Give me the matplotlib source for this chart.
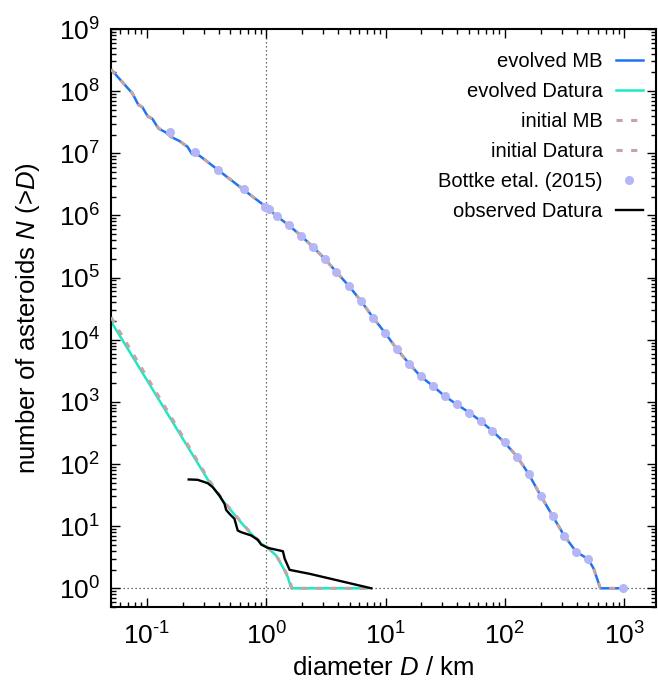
import matplotlib
matplotlib.use("Agg")
import math
import matplotlib.pyplot as plt
from matplotlib.ticker import FixedLocator, LogLocator, FuncFormatter, NullFormatter

plt.rcParams['font.family'] = ['Liberation Sans', 'DejaVu Sans']
plt.rcParams['mathtext.fontset'] = 'custom'
plt.rcParams['mathtext.rm'] = 'Liberation Sans'
plt.rcParams['mathtext.it'] = 'Liberation Sans:italic'
plt.rcParams['mathtext.default'] = 'regular'
plt.rcParams['axes.unicode_minus'] = False

# ---- data ----
mb_evolved_D = [0.05, 0.0756, 0.085, 0.0918, 0.102, 0.111, 0.125, 0.144, 0.159, 0.187, 0.219,
                0.239, 0.275, 0.77, 1.0, 1.23, 1.55, 1.95, 2.47, 3.1, 3.87, 4.94, 6.23, 7.87,
                9.93, 12.5, 15.8, 19.7, 24.8, 31.3, 39.5, 50.5, 62.8, 78.7, 99.4, 127, 158,
                200, 251, 315, 397, 501, 556, 632, 950]
mb_evolved_N = [2.24e8, 9.2e7, 5.97e7, 5.5e7, 3.87e7, 3.6e7, 2.5e7, 2.17e7, 1.84e7, 1.58e7, 1.27e7,
                9.7e6, 9.2e6, 2.0e6, 1.37e6, 9.7e5, 6.9e5, 4.75e5, 3.1e5, 2.0e5, 1.23e5, 7.3e4, 4.2e4, 2.27e4,
                1.28e4, 7.0e3, 4.1e3, 2.57e3, 1.82e3, 1.24e3, 912, 670, 490, 339, 222, 131, 69.7,
                30.8, 14.7, 6.98, 3.86, 2.94, 2.06, 1.0, 1.0]
mb_initial_D = [0.05, 0.0756, 0.085, 0.0918, 0.102, 0.111, 0.125, 0.144, 0.159, 0.187, 0.219,
                0.245, 0.275, 0.77, 1.0, 1.23, 1.55, 1.95, 2.47, 3.1, 3.87, 4.94, 6.23, 7.87,
                9.93, 12.5, 15.8, 19.7, 24.8, 31.3, 39.5, 50.5, 62.8, 78.7, 99.4, 127, 158,
                200, 251, 315, 397, 501, 556, 632, 950]
mb_initial_N = [2.24e8, 9.2e7, 6.1e7, 5.5e7, 3.95e7, 3.6e7, 2.55e7, 2.17e7, 1.84e7, 1.58e7, 1.27e7,
                1.0e7, 9.2e6, 2.0e6, 1.37e6, 9.7e5, 6.9e5, 4.75e5, 3.1e5, 2.0e5, 1.23e5, 7.3e4, 4.2e4, 2.27e4,
                1.28e4, 7.0e3, 4.1e3, 2.57e3, 1.82e3, 1.24e3, 912, 670, 490, 339, 222, 131, 69.7,
                30.8, 14.7, 6.98, 3.86, 2.94, 2.06, 1.0, 1.0]

datura_evolved_D = [0.05, 0.334, 0.431, 0.597, 0.724, 0.908, 1.0, 1.21, 1.38, 1.52, 1.62, 7.0]
datura_evolved_N = [1.97e4, 51, 25.9, 12.3, 8.0, 5.2, 4.7, 3.37, 2.18, 1.5, 1.0, 1.0]
datura_initial_D = [0.05, 0.334, 0.431, 0.597, 0.724, 0.908, 1.0, 1.21, 1.38, 1.52, 1.65, 7.0]
datura_initial_N = [2.3e4, 54, 26.5, 12.6, 8.2, 5.3, 4.8, 3.4, 2.25, 1.55, 1.0, 1.0]

bottke_D = [0.157, 0.255, 0.397, 0.649, 0.98, 1.05, 1.23, 1.55, 1.95, 2.47, 3.1, 3.87, 4.94,
            6.23, 7.87, 9.93, 12.5, 15.8, 19.7, 24.8, 31.3, 39.5, 50.5, 62.8, 78.7, 99.4,
            127, 158, 200, 251, 315, 397, 501, 987]
bottke_N = [2.17e7, 1.06e7, 5.4e6, 2.65e6, 1.39e6, 1.28e6, 9.7e5, 6.9e5, 4.75e5, 3.1e5, 2.0e5,
            1.23e5, 7.3e4, 4.2e4, 2.27e4, 1.28e4, 7.0e3, 4.1e3, 2.57e3, 1.82e3, 1.24e3, 912,
            670, 490, 339, 222, 131, 69.7, 30.8, 14.7, 6.98, 3.86, 2.94, 1.0]

observed_D = [0.224, 0.266, 0.323, 0.356, 0.405, 0.447, 0.461, 0.492, 0.542, 0.577, 0.616,
              0.748, 0.851, 0.908, 1.03, 1.38, 1.43, 1.57, 2.31, 7.6]
observed_N = [56.4, 55.7, 49.2, 42.4, 31.2, 22.9, 18.3, 15.8, 13.1, 8.5, 8.0,
              7.08, 6.03, 5.05, 4.47, 3.95, 2.98, 1.98, 1.71, 1.0]

x_ticks = [0.1, 1, 10, 100, 1000]
y_ticks = [1, 10, 100, 1e3, 1e4, 1e5, 1e6, 1e7, 1e8, 1e9]

labels = ["evolved MB", "evolved Datura", "initial MB", "initial Datura",
          "Bottke etal. (2015)", "observed Datura"]


def pow10(v, pos=None):
    e = int(round(math.log10(v)))
    return '$10^{\\text{%d}}$' % e


# ---- figure ----
fig = plt.figure(figsize=(6.58, 6.84), dpi=100)
ax = fig.add_axes([111/658, 1-607/684, (656-111)/658, (607-29)/684])
ax.set_xscale('log')
ax.set_yscale('log')
ax.set_xlim(0.05, 1850)
ax.set_ylim(0.5, 1e9)

ax.axvline(1.0, color='#444444', lw=0.9, ls=(0, (1, 2.2)), zorder=1)
ax.axhline(1.0, color='#444444', lw=0.9, ls=(0, (1, 2.2)), zorder=1)

blue = '#1f74f2'
cyan = '#1de8c6'
rosy = '#c4a4a4'
lav = '#b4b6f6'

ax.plot(mb_evolved_D, mb_evolved_N, color=blue, lw=1.8, label=labels[0], zorder=2)
ax.plot(datura_evolved_D, datura_evolved_N, color=cyan, lw=1.8, label=labels[1], zorder=2)
ax.plot(mb_initial_D, mb_initial_N, color=rosy, lw=2.2, ls=(0, (2.0, 2.8)), label=labels[2], zorder=3)
ax.plot(datura_initial_D, datura_initial_N, color=rosy, lw=2.2, ls=(0, (2.0, 2.8)), label=labels[3], zorder=3)
ax.plot(bottke_D, bottke_N, ls='none', marker='o', ms=6.5, mfc=lav, mec='none', label=labels[4], zorder=4)
ax.plot(observed_D, observed_N, color='black', lw=1.7, label=labels[5], zorder=5)

ax.xaxis.set_major_locator(FixedLocator(x_ticks))
ax.yaxis.set_major_locator(FixedLocator(y_ticks))
ax.xaxis.set_minor_locator(LogLocator(base=10, subs=range(2, 10), numticks=50))
ax.yaxis.set_minor_locator(LogLocator(base=10, subs=range(2, 10), numticks=50))
ax.xaxis.set_major_formatter(FuncFormatter(pow10))
ax.yaxis.set_major_formatter(FuncFormatter(pow10))
ax.xaxis.set_minor_formatter(NullFormatter())
ax.yaxis.set_minor_formatter(NullFormatter())
ax.tick_params(which='both', direction='in', top=True, right=True, labelsize=19, width=1.0)
ax.tick_params(which='major', length=6.5)
ax.tick_params(which='minor', length=3.5)
ax.tick_params(axis='x', which='major', pad=11)
ax.tick_params(axis='y', which='major', pad=8)
for s in ax.spines.values():
    s.set_linewidth(1.5)

ax.set_xlabel('diameter $\\mathit{D}$ / km', fontsize=18.5, labelpad=5)
ax.set_ylabel('number of asteroids $\\mathit{N}$ (>$\\mathit{D}$)', fontsize=18.5, labelpad=12)

leg = ax.legend(loc='upper right', bbox_to_anchor=(643/658, 1-52/684),
                bbox_transform=fig.transFigure, frameon=False, markerfirst=False,
                fontsize=14.5, handlelength=1.35, handletextpad=0.65, labelspacing=0.55,
                borderpad=0, borderaxespad=0, numpoints=1)
for t in leg.get_texts():
    t.set_ha('right')

fig.savefig('out.png', dpi=100)
